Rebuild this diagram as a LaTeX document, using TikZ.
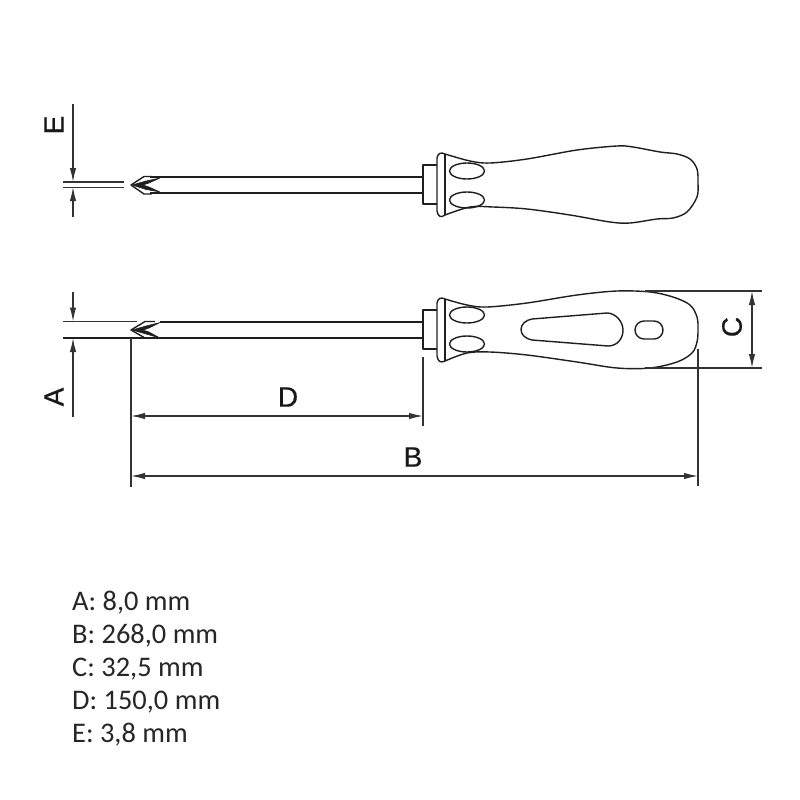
\documentclass[tikz,border=0pt]{standalone}
\usepackage{fontspec}
\setmainfont{Liberation Sans}
\newfontfamily\legendfont{Carlito}
\newfontfamily\labelfont[FakeBold=0.6]{Liberation Sans}
\usetikzlibrary{arrows.meta}
\tikzset{
  x=1pt,y=-1pt,
  outline/.style={line width=1.4pt,color=black!88,line join=round},
  dimline/.style={line width=1.3pt,color=black!80},
  dimarrow/.style={dimline,{Latex[length=14pt,width=6.5pt]}-{Latex[length=14pt,width=6.5pt]}},
  onearrow/.style={dimline,-{Latex[length=14pt,width=6.5pt]}},
  dimlabel/.style={inner sep=0pt,font=\labelfont\fontsize{28}{28}\selectfont,text=black!90},
  legendline/.style={inner sep=0pt,anchor=base west,font=\legendfont\fontsize{28.4}{28.4}\selectfont,text=black!85},
  wedge/.style={fill=black!88,draw=black!88,line width=.5pt,line join=round},
}
\begin{document}
\begin{tikzpicture}
\path[use as bounding box,fill=white] (0,0) rectangle (800,800);

% ---------- top screwdriver ----------
\draw[outline] (150,177) -- (423,177) (150,193) -- (423,193);
\draw[outline] (437,165) -- (423,165) -- (423,204) -- (437,204);
\draw[outline] (445,154) .. controls (441,152) and (438,153) .. (437,158)
  -- (437,211) .. controls (438,217) and (441,218) .. (445,215);
\draw[outline] (445,154) -- (445,215);
\draw[outline] plot[smooth,tension=.55] coordinates {(445,154) (470,161) (490,163) (527,159) (577,150) (617,146) (633,147) (660,152) (677,154) (690,159) (697,169) (698,183) (697,197) (687,212) (673,218) (657,219) (630,223) (610,222) (570,215) (527,209) (493,207) (470,207) (445,215)};
\draw[outline] (467,171) ellipse[x radius=17.5,y radius=8];
\draw[outline] (467,200) ellipse[x radius=17.5,y radius=8];
% tip
\draw[outline] (152,176.5) -- (144,176.5) -- (131,185) -- (144,194) -- (152,194);
\draw[wedge] (132,185) -- (146,181) -- (160,178) -- (149,183) -- (143,185) -- (149,187) -- (160,192) -- (146,189.5) -- cycle;

% ---------- bottom screwdriver ----------
\draw[outline] (160,322) -- (423,322) (63,338) -- (423,338);
\draw[outline] (437,310) -- (423,310) -- (423,349) -- (437,349);
\draw[outline] (445,299) .. controls (441,297) and (438,298) .. (437,303)
  -- (437,356) .. controls (438,362) and (441,363) .. (445,361);
\draw[outline] (445,299) -- (445,361);
\draw[outline] plot[smooth,tension=.55] coordinates {(445,299) (467,305) (487,307) (527,303) (577,295) (617,291) (650,292) (673,297) (690,305) (697,317) (698,330) (697,342) (692,353) (677,362) (650,368) (617,368) (577,362) (527,355) (490,352) (467,353) (445,361)};
\draw[outline] (467,315) ellipse[x radius=17.5,y radius=8];
\draw[outline] (467,344) ellipse[x radius=17.5,y radius=8];
% slot
\draw[outline] (532,319) -- (607,313) .. controls (615,313) and (623,321) .. (623,330)
  .. controls (623,339) and (617,346) .. (608,346) -- (532,340)
  .. controls (526,339) and (521,335) .. (521,329.5) .. controls (521,324) and (526,320) .. (532,319) -- cycle;
\draw[outline,rounded corners=9pt] (635,321) rectangle (663,339);
% tip
\draw[outline] (155,321.5) -- (145,321.5) -- (131,330) -- (145,338);
\draw[wedge] (132,330) -- (146,326) -- (160,322.5) -- (149,328) -- (143,330) -- (149,332) -- (160,338) -- (146,334) -- cycle;

% ---------- dimension E ----------
\coordinate (Etop) at (73,104);
\coordinate (Etip) at (73,182);
\coordinate (Ebot) at (73,217);
\coordinate (Ebtip) at (73,187);
\draw[dimline] (63,182) -- (124,182) (63,187.5) -- (124,187.5);
\draw[onearrow] (Etop) -- (Etip);
\draw[onearrow] (Ebot) -- (Ebtip);
\node[dimlabel,rotate=90] (labelE) at (54,125) {E};

% ---------- dimension A ----------
\coordinate (Atop) at (73,292);
\coordinate (Atip) at (73,321.5);
\coordinate (Abot) at (73,417);
\coordinate (Abtip) at (73,338);
\draw[dimline] (63,321.5) -- (137,321.5);
\draw[onearrow] (Atop) -- (Atip);
\draw[onearrow] (Abot) -- (Abtip);
\node[dimlabel,rotate=90] (labelA) at (54,397) {A};

% ---------- extension lines ----------
\coordinate (leftTop) at (131,338);
\coordinate (leftBot) at (131,487);
\coordinate (midTop) at (423,357);
\coordinate (midBot) at (423,426);
\coordinate (rightTop) at (698,349);
\coordinate (rightBot) at (698,486);
\draw[dimline] (leftTop) -- (leftBot);
\draw[dimline] (midTop) -- (midBot);
\draw[dimline] (rightTop) -- (rightBot);

% ---------- dimensions D, B ----------
\coordinate (Dl) at (131,416);
\coordinate (Dr) at (423,416);
\coordinate (Bl) at (131,476);
\coordinate (Br) at (698,476);
\draw[dimarrow] (Dl) -- (Dr);
\draw[dimarrow] (Bl) -- (Br);
\node[dimlabel] (labelD) at (288,397) {D};
\node[dimlabel] (labelB) at (413,457) {B};

% ---------- dimension C ----------
\coordinate (Ct) at (752,291);
\coordinate (Cb) at (752,368);
\draw[dimline] (645,291) -- (762,291) (645,368) -- (762,368);
\draw[dimarrow] (Ct) -- (Cb);
\node[dimlabel,rotate=90] (labelC) at (732,327) {C};

% ---------- legend ----------
\node[legendline] (legendA) at (72,610) {A: 8,0 mm};
\node[legendline] (legendB) at (72,643.5) {B: 268,0 mm};
\node[legendline] (legendC) at (72,676.5) {C: 32,5 mm};
\node[legendline] (legendD) at (72,709.5) {D: 150,0 mm};
\node[legendline] (legendE) at (72,742.5) {E: 3,8 mm};
\end{tikzpicture}
\end{document}
